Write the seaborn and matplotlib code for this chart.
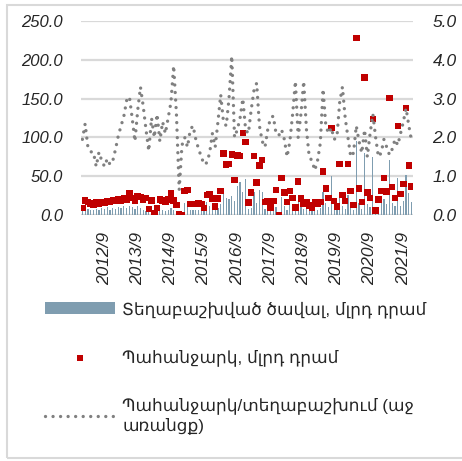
import numpy as np
import pandas as pd
import matplotlib
matplotlib.use("Agg")
import matplotlib.pyplot as plt
import seaborn as sns
from matplotlib.patches import Rectangle

# ---- data (monthly, 2012/1 .. 2021/12) ----
start_year = 2012
tick_years = [2012, 2013, 2014, 2015, 2016, 2017, 2018, 2019, 2020, 2021]
tick_month = 9

demand = [9, 19, 17, 15, 13, 16, 15, 17, 16, 18, 17, 19,
          18, 20, 19, 22, 20, 28, 22, 19, 24, 23, 20, 22,
          8, 19, 2, 9, 20, 19, 17, 20, 28, 19, 13, 1,
          0, 31, 32, 14, 14, 14, 15, 14, 9, 26, 27, 21,
          11, 21, 31, 79, 65, 66, 78, 45, 77, 76, 106, 94,
          16, 29, 76, 42, 64, 71, 17, 18, 10, 18, 32, 0,
          48, 29, 17, 31, 22, 10, 43, 21, 15, 17, 12, 10,
          17, 14, 17, 56, 34, 22, 112, 18, 11, 66, 26, 18,
          66, 31, 13, 228, 34, 17, 177, 29, 22, 124, 6, 20,
          31, 48, 30, 151, 36, 22, 115, 27, 40, 138, 64, 37]

placed = [6, 9, 8, 7, 6, 8, 7, 9, 8, 10, 7, 9,
          8, 10, 9, 11, 9, 12, 10, 8, 11, 9, 7, 5,
          4, 8, 2, 5, 7, 6, 5, 7, 9, 6, 4, 2,
          1, 15, 12, 6, 7, 6, 7, 8, 5, 17, 12, 10,
          6, 9, 14, 28, 22, 20, 25, 18, 38, 43, 30, 47,
          8, 9, 30, 15, 32, 30, 8, 7, 5, 8, 10, 2,
          23, 12, 7, 14, 11, 5, 26, 10, 8, 9, 6, 5,
          8, 7, 9, 30, 15, 10, 50, 8, 6, 26, 12, 8,
          26, 14, 6, 96, 15, 8, 80, 14, 10, 75, 3, 10,
          23, 20, 14, 71, 16, 11, 48, 12, 18, 52, 28, 17]

ratio = [1.95, 2.35, 1.75, 1.63, 1.62, 1.25, 1.62, 1.4, 1.25, 1.45, 1.3, 1.4,
         1.7, 2.05, 2.3, 2.55, 2.95, 3.05, 2.5, 1.9, 2.7, 3.3, 2.8, 2.2,
         1.65, 2.5, 2.0, 2.6, 1.9, 2.4, 2.1, 2.5, 2.9, 3.85, 2.6, 0.65,
         1.8, 2.0, 1.75, 2.2, 2.3, 1.95, 1.7, 1.5, 1.3, 1.35, 1.6, 2.1,
         1.75, 2.4, 3.1, 2.4, 2.3, 3.0, 4.1, 2.0, 2.2, 2.5, 3.0, 2.2,
         2.1, 2.7, 3.2, 3.4, 2.3, 1.9, 1.75, 2.2, 2.5, 2.55, 2.1, 2.05,
         2.2, 1.95, 1.5, 1.9, 2.6, 3.45, 2.0, 2.6, 3.45, 2.2, 1.5, 1.4,
         1.15, 1.4, 1.85, 3.25, 2.3, 2.1, 2.25, 1.95, 2.0, 2.9, 3.3, 2.5,
         2.0, 1.5, 1.6, 2.3, 1.9, 1.6, 2.2, 1.5, 2.1, 2.6, 2.0, 1.5,
         1.6, 1.95, 1.75, 1.55, 1.7, 1.95, 1.8, 2.1, 2.4, 2.75, 2.3, 1.9]

label_placed = "Տեղաբաշխված ծավալ, մլրդ դրամ"
label_demand = "Պահանջարկ, մլրդ դրամ"
label_ratio = "Պահանջարկ/տեղաբաշխում (աջ\nառանցք)"

df = pd.DataFrame({"i": np.arange(len(demand)), "demand": demand,
                   "placed": placed, "ratio": ratio})

sns.set_style("white")
plt.rcParams["font.family"] = ["Liberation Sans", "DejaVu Sans"]

fig = plt.figure(figsize=(4.62, 4.61), dpi=100)
ax = fig.add_axes([0.1753, 0.5336, 0.7186, 0.4208])
ax2 = ax.twinx()

sns.barplot(data=df, x="i", y="placed", native_scale=True, width=0.45,
            color="#7f9db0", ax=ax, label=label_placed, saturation=1,
            linewidth=0, edgecolor="none")
sns.scatterplot(data=df, x="i", y="demand", marker="s", s=22,
                color="#c00000", edgecolor="none", linewidth=0, ax=ax,
                label=label_demand, zorder=4)
sns.lineplot(data=df, x="i", y="ratio", ax=ax2, color="#808080",
             linewidth=2.4, linestyle=(0, (0.01, 2.25)),
             dash_capstyle="round", label=label_ratio)

ax.set_xlim(-0.5, len(demand) - 0.5)
ax.set_ylim(0, 250)
ax2.set_ylim(0, 5)
ax.set_yticks(np.arange(0, 251, 50))
ax2.set_yticks(np.arange(0, 5.01, 1))
ax.set_yticklabels([f"{v:.1f}" for v in np.arange(0, 251, 50)],
                   fontsize=12, style="italic")
ax2.set_yticklabels([f"{v:.1f}" for v in np.arange(0, 5.01, 1)],
                    fontsize=12.5, style="italic")
tick_pos = [(y - start_year) * 12 + tick_month - 1 for y in tick_years]
ax.set_xticks(tick_pos)
ax.set_xticklabels([f"{y}/{tick_month}" for y in tick_years], rotation=90,
                   fontsize=12.5, style="italic")
ax.set_xlabel("")
ax.set_ylabel("")
ax2.set_ylabel("")
ax2.set_xlabel("")
ax.grid(axis="y", color="#d9d9d9", linewidth=1.6)
ax.set_axisbelow(True)
ax.tick_params(axis="y", length=0, pad=13)
ax.tick_params(axis="x", length=0, pad=12)
ax2.tick_params(axis="y", length=0, pad=14)
for a in (ax, ax2):
    for s in a.spines.values():
        s.set_visible(False)

h1, l1 = ax.get_legend_handles_labels()
h2, l2 = ax2.get_legend_handles_labels()
if ax.get_legend():
    ax.get_legend().remove()
if ax2.get_legend():
    ax2.get_legend().remove()
hd = dict(zip(l1 + l2, h1 + h2))
order = [label_placed, label_demand, label_ratio]
fig.legend([hd[k] for k in order], order, loc="upper left",
           bbox_to_anchor=(0.065, 0.38),
           frameon=False, fontsize=12.2, handlelength=4.1, labelspacing=1.85,
           handletextpad=0.45)

fig.patches.append(Rectangle((7 / 462, 3 / 461), 1.2, 1 - 8 / 461,
                             transform=fig.transFigure, fill=False,
                             edgecolor="#d9d9d9", linewidth=1.5))
fig.savefig("out.png", dpi=100)
